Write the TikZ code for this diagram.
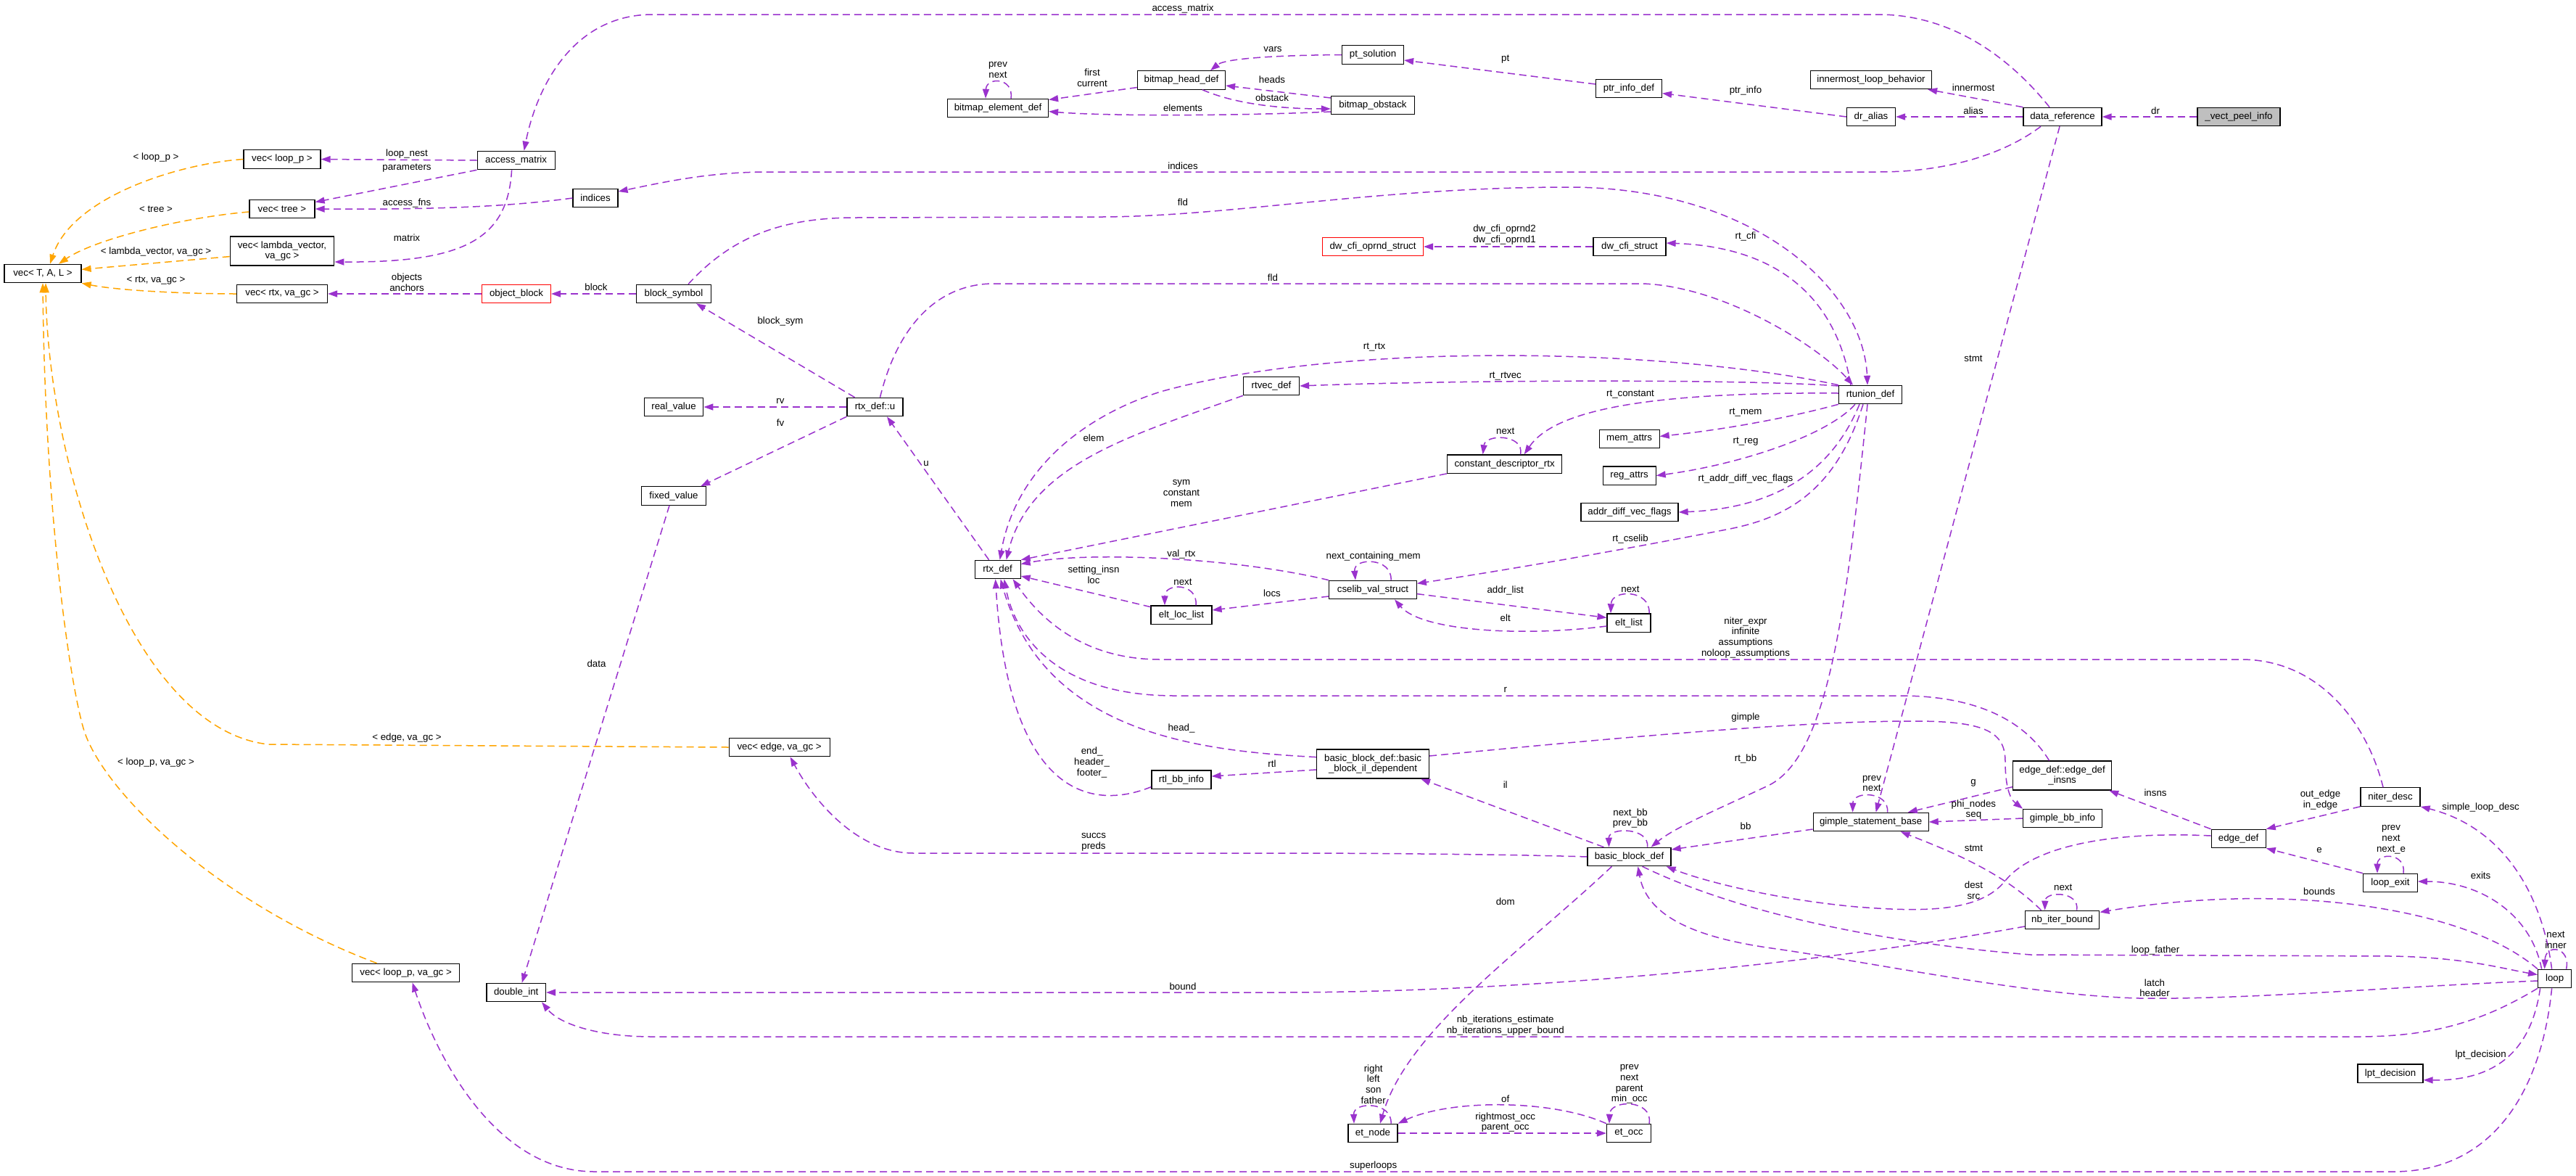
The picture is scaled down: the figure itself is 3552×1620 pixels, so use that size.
\documentclass[tikz,border=0pt]{standalone}
\usepackage{fontspec}
\newfontfamily\nf{Liberation Sans}
\usetikzlibrary{arrows.meta}
\definecolor{pcol}{HTML}{9A32CD}
\definecolor{ocol}{HTML}{FFA500}
\definecolor{gcol}{HTML}{BFBFBF}
\begin{document}
\begin{tikzpicture}[x=1pt,y=-1pt,
  box/.style={draw=black,line width=1.2pt,fill=white,minimum height=25.4pt,inner sep=0pt,align=center,font=\nf\fontsize{13.3}{14.7}\selectfont},
  rbox/.style={box,draw=red,line width=1pt},
  lbl/.style={inner sep=0pt,align=center,font=\nf\fontsize{13.3}{14.7}\selectfont},
  pe/.style={draw=pcol,line width=1.5pt,dash pattern=on 10pt off 6pt,-{Triangle[length=13pt,width=9pt]}},
  oe/.style={draw=ocol,line width=1.5pt,dash pattern=on 10pt off 6pt,-{Triangle[length=13pt,width=9pt]}}]
\fill[white] (0,0) rectangle (3552,1620);
\useasboundingbox (0,0) rectangle (3552,1620);
% nodes
\node[box,minimum width=106pt] (vtal) at (59,377) {vec< T, A, L >};
\node[box,minimum width=106pt] (vlp) at (389,219.5) {vec< loop\_p >};
\node[box,minimum width=107pt] (am) at (711.6,221) {access\_matrix};
\node[box,minimum width=90pt] (vtree) at (389,288) {vec< tree >};
\node[box,minimum width=62pt] (ind) at (821,273) {indices};
\node[box,minimum width=143.5pt,minimum height=40pt] (vlam) at (389,346) {vec< lambda\_vector,\\ va\_gc >};
\node[box,minimum width=125pt] (vrtx) at (389,405) {vec< rtx, va\_gc >};
\node[rbox,minimum width=95pt] (ob) at (712,405) {object\_block};
\node[box,minimum width=103pt] (bs) at (929,405) {block\_symbol};
\node[box,minimum width=139pt] (bed) at (1376,149) {bitmap\_element\_def};
\node[box,minimum width=121pt] (bhd) at (1629,110.5) {bitmap\_head\_def};
\node[box,minimum width=85pt] (pts) at (1893,75.5) {pt\_solution};
\node[box,minimum width=115pt] (bob) at (1893,145) {bitmap\_obstack};
\node[box,minimum width=91pt] (pid) at (2246,122) {ptr\_info\_def};
\node[box,minimum width=167pt] (ilb) at (2580,110) {innermost\_loop\_behavior};
\node[box,minimum width=67pt] (dra) at (2580,161) {dr\_alias};
\node[box,minimum width=108pt] (dref) at (2844,161) {data\_reference};
\node[box,fill=gcol,minimum width=114pt] (vpi) at (3087,161) {\_vect\_peel\_info};
\node[rbox,minimum width=139pt] (cfo) at (1893,340) {dw\_cfi\_oprnd\_struct};
\node[box,minimum width=100pt] (cfs) at (2247,340) {dw\_cfi\_struct};
\node[box,minimum width=87pt] (rtu) at (2579,544) {rtunion\_def};
\node[box,minimum width=77pt] (rvec) at (1753,532) {rtvec\_def};
\node[box,minimum width=77pt] (rtxu) at (1206.5,561) {rtx\_def::u};
\node[box,minimum width=81.5pt] (rv) at (929,561) {real\_value};
\node[box,minimum width=89pt] (fv) at (929,683.5) {fixed\_value};
\node[box,minimum width=63pt] (rtx) at (1375.6,785) {rtx\_def};
\node[box,minimum width=158.5pt] (cdr) at (2074.6,639.6) {constant\_descriptor\_rtx};
\node[box,minimum width=83pt] (mem) at (2246.6,605) {mem\_attrs};
\node[box,minimum width=73pt] (reg) at (2246.6,655.6) {reg\_attrs};
\node[box,minimum width=134pt] (adv) at (2247,706) {addr\_diff\_vec\_flags};
\node[box,minimum width=120.5pt] (cvs) at (1893,813) {cselib\_val\_struct};
\node[box,minimum width=84pt] (ell) at (1629,847.6) {elt\_loc\_list};
\node[box,minimum width=60pt] (el) at (2246,858.6) {elt\_list};
\node[box,minimum width=155pt,minimum height=40pt] (bbil) at (1893,1053) {basic\_block\_def::basic\\\_block\_il\_dependent};
\node[box,minimum width=82pt] (rbb) at (1629,1074.6) {rtl\_bb\_info};
\node[box,minimum width=139pt] (vedge) at (1074.6,1030) {vec< edge, va\_gc >};
\node[box,minimum width=115pt] (bbd) at (2246.5,1181) {basic\_block\_def};
\node[box,minimum width=159pt] (gsb) at (2579.6,1133) {gimple\_statement\_base};
\node[box,minimum width=136pt,minimum height=40pt] (edi) at (2843.6,1069) {edge\_def::edge\_def\\\_insns};
\node[box,minimum width=108.6pt] (gbi) at (2844,1128) {gimple\_bb\_info};
\node[box,minimum width=82pt] (nd) at (3296,1098.5) {niter\_desc};
\node[box,minimum width=75pt] (ed) at (3086.6,1156) {edge\_def};
\node[box,minimum width=74.5pt] (lex) at (3296,1217) {loop\_exit};
\node[box,minimum width=102.4pt] (nib) at (2843.6,1268) {nb\_iter\_bound};
\node[box,minimum width=46pt] (loop) at (3522.6,1349) {loop};
\node[box,minimum width=90pt] (lpt) at (3296,1479.7) {lpt\_decision};
\node[box,minimum width=148pt] (vlpgc) at (559.6,1341) {vec< loop\_p, va\_gc >};
\node[box,minimum width=81.5pt] (di) at (711.7,1368) {double\_int};
\node[box,minimum width=68pt] (etn) at (1893,1562) {et\_node};
\node[box,minimum width=61pt] (eto) at (2246,1562) {et\_occ};
% purple edges
\draw[pe] (vpi.west) -- (dref.east);
\draw[pe] (dref.north west) -- ([xshift=-6pt]ilb.south east);
\draw[pe] (dref.west) -- (dra.east);
\draw[pe] (dra.west) -- ([yshift=-6.6pt]pid.east);
\draw[pe] ([yshift=6pt]pid.west) -- ([yshift=-7.5pt]pts.east);
\draw[pe] (pts.west) .. controls (1770,76) and (1690,80) .. ([xshift=40pt]bhd.north);
\draw[pe] ([yshift=10pt]bob.west) -- ([yshift=-7.5pt]bhd.east);
\draw[pe] ([xshift=29pt]bhd.south) .. controls (1700,142) and (1760,150) .. ([yshift=-5pt]bob.west);
\draw[pe] ([yshift=-9pt]bob.west) .. controls (1700,160) and (1520,160) .. ([yshift=-4.6pt]bed.east);
\draw[pe] ([yshift=-10pt]bhd.west) -- ([yshift=11.5pt]bed.east);
\draw[pe] ([xshift=18pt]bed.north) .. controls (1398,106) and (1360,106) .. ([xshift=-17pt]bed.north);
\draw[pe] ([xshift=-18pt]dref.north) .. controls (2780,90) and (2700,20) .. (2590,20) -- (900,20) .. controls (790,20) and (740,120) .. ([xshift=11pt]am.north);
\draw[pe] ([xshift=-30pt]dref.south) .. controls (2760,215) and (2680,237) .. (2590,237) -- (1060,237) .. controls (980,237) and (920,250) .. ([yshift=9pt]ind.east);
\draw[pe] ([xshift=-4pt]dref.south) -- ([xshift=7pt]gsb.north);
\draw[pe] (am.west) -- (vlp.east);
\draw[pe] (am.south west) -- ([yshift=9.4pt]vtree.east);
\draw[pe] (ind.west) .. controls (700,285) and (600,289) .. (vtree.east);
\draw[pe] ([xshift=-6pt]am.south) .. controls (700,330) and (640,362) .. ([yshift=-15pt]vlam.east);
\draw[pe] (ob.west) -- (vrtx.east);
\draw[pe] (bs.west) -- (ob.east);
\draw[pe] ([xshift=20pt]bs.north) .. controls (1010,325) and (1080,300) .. (1180,300) -- (1520,299) .. controls (1700,298) and (1900,258) .. (2162,258) .. controls (2420,258) and (2570,400) .. ([xshift=-4pt]rtu.north);
\draw[pe] ([xshift=7pt]rtxu.north) .. controls (1240,440) and (1300,391) .. (1370,391) -- (2265,391) .. controls (2380,395) and (2510,480) .. ([xshift=-24pt]rtu.north);
\draw[pe] (rtxu.west) -- (rv.east);
\draw[pe] (rtxu.south west) -- ([xshift=-8pt]fv.north east);
\draw[pe] ([xshift=-28pt]rtxu.north) -- ([xshift=31pt]bs.south);
\draw[pe] ([xshift=-12pt]rtx.north) -- ([xshift=16.5pt]rtxu.south);
\draw[pe] ([xshift=-6pt]fv.south) -- ([xshift=8pt]di.north);
\draw[pe] (rvec.south west) .. controls (1560,600) and (1420,640) .. ([xshift=12pt]rtx.north);
\draw[pe] (rtu.north west) .. controls (2300,480) and (1850,470) .. (1600,540) .. controls (1490,575) and (1400,650) .. ([xshift=3pt]rtx.north);
\draw[pe] ([yshift=12pt]rtu.west) .. controls (2400,522) and (2000,524) .. (rvec.east);
\draw[pe] ([yshift=2pt]rtu.west) .. controls (2250,540) and (2140,570) .. ([xshift=27pt]cdr.north);
\draw[pe] ([xshift=22pt]cdr.north) .. controls (2102,598) and (2048,598) .. ([xshift=-30pt]cdr.north);
\draw[pe] (rtu.south west) .. controls (2470,575) and (2380,592) .. ([yshift=3.6pt]mem.east);
\draw[pe] ([xshift=-21pt]rtu.south) .. controls (2520,600) and (2400,640) .. (reg.east);
\draw[pe] ([xshift=-15pt]rtu.south) .. controls (2530,640) and (2460,700) .. (adv.east);
\draw[pe] ([xshift=-10pt]rtu.south) .. controls (2530,680) and (2460,715) .. (2380,730) .. controls (2200,765) and (2050,790) .. ([yshift=8.7pt]cvs.east);
\draw[pe] ([xshift=-4pt]rtu.south) .. controls (2545,850) and (2520,1040) .. (2440,1082) .. controls (2370,1115) and (2310,1140) .. ([xshift=30pt]bbd.north);
\draw[pe] ([xshift=-27pt]rtu.north) .. controls (2530,400) and (2440,340) .. ([yshift=5pt]cfs.east);
\draw[pe] (cfs.west) -- (cfo.east);
\draw[pe] (cdr.south west) -- (rtx.north east);
\draw[pe] (cvs.north west) .. controls (1700,768) and (1500,760) .. ([yshift=7.5pt]rtx.east);
\draw[pe] ([yshift=-9pt]cvs.west) -- ([yshift=6.6pt]ell.east);
\draw[pe] ([yshift=11pt]ell.west) -- ([yshift=-9pt]rtx.east);
\draw[pe] ([xshift=20pt]ell.north) .. controls (1652,803) and (1606,803) .. ([xshift=-23pt]ell.north);
\draw[pe] ([yshift=-5.6pt]cvs.east) -- ([yshift=7.2pt]el.west);
\draw[pe] ([yshift=-4.4pt]el.west) .. controls (2100,878) and (1960,870) .. ([xshift=30pt]cvs.south);
\draw[pe] ([xshift=28pt]el.north) .. controls (2276,812) and (2222,812) .. ([xshift=-25pt]el.north);
\draw[pe] ([xshift=25pt]cvs.north) .. controls (1920,768) and (1866,768) .. ([xshift=-24pt]cvs.north);
\draw[pe] ([xshift=-10pt]nd.north) .. controls (3265,1000) and (3200,909) .. (3090,909) -- (1600,909) .. controls (1500,909) and (1440,860) .. ([xshift=21pt]rtx.south);
\draw[pe] ([xshift=-18pt]edi.north) .. controls (2790,990) and (2720,959) .. (2620,959) -- (1620,959) .. controls (1460,959) and (1400,880) .. ([xshift=9pt]rtx.south);
\draw[pe] ([yshift=9.4pt]bbil.west) .. controls (1650,1035) and (1440,1010) .. ([xshift=4pt]rtx.south);
\draw[pe] ([yshift=-10pt]rbb.west) .. controls (1500,1120) and (1390,1090) .. ([xshift=-3pt]rtx.south);
\draw[pe] ([yshift=-8pt]bbil.west) -- ([yshift=4.6pt]rbb.east);
\draw[pe] ([xshift=-35pt]bbd.north) -- ([xshift=-12pt]bbil.south east);
\draw[pe] (bbd.west) .. controls (2100,1178) and (1900,1176) .. (1780,1176) -- (1260,1176) .. controls (1180,1176) and (1120,1100) .. ([xshift=15pt]vedge.south);
\draw[pe] ([xshift=-24pt]bbd.south) .. controls (2100,1310) and (1940,1420) .. ([xshift=10pt]etn.north);
\draw[pe] ([xshift=25pt]bbd.north) .. controls (2275,1140) and (2218,1140) .. ([xshift=-28pt]bbd.north);
\draw[pe] ([yshift=-10pt]gsb.west) -- ([yshift=10pt]bbd.east);
\draw[pe] ([xshift=23pt]gsb.north) .. controls (2605,1090) and (2555,1090) .. ([xshift=-25pt]gsb.north);
\draw[pe] (gbi.west) -- (gsb.east);
\draw[pe] ([yshift=11pt]bbil.east) .. controls (2300,1010) and (2500,994) .. (2640,994) .. controls (2740,994) and (2765,1010) .. (2765,1050) .. controls (2765,1080) and (2770,1100) .. (gbi.north west);
\draw[pe] ([yshift=5pt]edi.south west) -- ([xshift=-29pt]gsb.north east);
\draw[pe] (ed.north west) -- ([xshift=-4pt]edi.south east);
\draw[pe] (nd.south west) -- (ed.north east);
\draw[pe] (lex.north west) -- (ed.south east);
\draw[pe] ([xshift=18pt]lex.north) .. controls (3318,1175) and (3278,1175) .. ([xshift=-18pt]lex.north);
\draw[pe] ([xshift=-18pt]loop.north) .. controls (3490,1260) and (3420,1215) .. ([yshift=2pt]lex.east);
\draw[pe] ([xshift=-4pt]loop.north) .. controls (3505,1230) and (3450,1140) .. (nd.south east);
\draw[pe] ([xshift=16pt]loop.north) .. controls (3545,1305) and (3510,1300) .. ([xshift=-14pt]loop.north);
\draw[pe] (loop.north west) .. controls (3400,1250) and (3150,1215) .. ([yshift=10.6pt]nib.east);
\draw[pe] ([xshift=20pt]nib.north) .. controls (2868,1228) and (2820,1228) .. ([xshift=-24pt]nib.north);
\draw[pe] ([xshift=-29pt]nib.north) .. controls (2760,1200) and (2680,1170) .. ([xshift=41pt]gsb.south);
\draw[pe] ([yshift=-9pt]nib.west) .. controls (2500,1330) and (2100,1368) .. (1760,1368) -- (di.east);
\draw[pe] ([yshift=4pt]ed.west) .. controls (2900,1145) and (2800,1170) .. (2765,1214) .. controls (2730,1258) and (2650,1257) .. (2560,1250) .. controls (2450,1240) and (2350,1215) .. ([xshift=-7pt]bbd.south east);
\draw[pe] ([xshift=18pt]bbd.south) .. controls (2400,1260) and (2600,1300) .. (2800,1316) -- (3300,1318) .. controls (3400,1320) and (3450,1335) .. ([yshift=5.5pt]loop.west);
\draw[pe] ([yshift=-3pt]loop.west) .. controls (3300,1360) and (3100,1378) .. (2950,1376) .. controls (2800,1372) and (2600,1330) .. (2450,1308) .. controls (2330,1292) and (2270,1260) .. ([xshift=12pt]bbd.south);
\draw[pe] ([xshift=-20pt]loop.south) .. controls (3490,1450) and (3440,1490) .. ([yshift=-9pt]lpt.east);
\draw[pe] (loop.south west) .. controls (3420,1410) and (3350,1429) .. (3250,1429) -- (900,1429) .. controls (820,1429) and (770,1410) .. ([xshift=-6pt]di.south east);
\draw[pe] ([xshift=-4pt]loop.south) .. controls (3505,1500) and (3440,1615) .. (3300,1615) -- (820,1615) .. controls (680,1615) and (600,1450) .. ([xshift=9pt]vlpgc.south);
\draw[pe] ([xshift=25pt]etn.north) .. controls (1920,1518) and (1866,1518) .. ([xshift=-26pt]etn.north);
\draw[pe] ([xshift=28pt]eto.north) .. controls (2280,1515) and (2220,1515) .. ([xshift=-27pt]eto.north);
\draw[pe] (eto.north west) .. controls (2140,1515) and (2000,1515) .. (etn.north east);
\draw[pe] (etn.east) -- (eto.west);
% orange edges
\draw[oe] (vlp.west) .. controls (250,225) and (100,270) .. ([xshift=10pt]vtal.north);
\draw[oe] ([yshift=-4pt]vtree.west) .. controls (250,300) and (130,330) .. ([xshift=22pt]vtal.north);
\draw[oe] ([yshift=-7.6pt]vlam.west) -- ([yshift=5.6pt]vtal.east);
\draw[oe] (vrtx.west) .. controls (250,405) and (160,400) .. (vtal.south east);
\draw[oe] (vedge.west) -- (370,1026) .. controls (180,1005) and (66,640) .. ([xshift=4pt]vtal.south);
\draw[oe] ([xshift=-40pt]vlpgc.north) .. controls (300,1245) and (140,1090) .. (115,1004) .. controls (95,935) and (62,700) .. (vtal.south);
% labels
\node[lbl] (l1) at (215,217) {< loop\_p >};
\node[lbl] (l2) at (561,212) {loop\_nest};
\node[lbl] (l3) at (561,232) {parameters};
\node[lbl] (l4) at (215,288.6) {< tree >};
\node[lbl] (l5) at (561,280) {access\_fns};
\node[lbl] (l6) at (561,327.5) {matrix};
\node[lbl] (l7) at (215,347) {< lambda\_vector, va\_gc >};
\node[lbl] (l8) at (215,387) {< rtx, va\_gc >};
\node[lbl] (l9) at (561,389.5) {objects\\anchors};
\node[lbl] (l10) at (822,396) {block};
\node[lbl] (l11) at (1631,12) {access\_matrix};
\node[lbl] (l12) at (1376,96.3) {prev\\next};
\node[lbl] (l13) at (1506,107.5) {first\\current};
\node[lbl] (l14) at (1755,68) {vars};
\node[lbl] (l15) at (1754,110) {heads};
\node[lbl] (l16) at (1754,135) {obstack};
\node[lbl] (l17) at (1631,148.6) {elements};
\node[lbl] (l18) at (1631,228.6) {indices};
\node[lbl] (l19) at (1631,279) {fld};
\node[lbl] (l20) at (1755,383) {fld};
\node[lbl] (l21) at (1076,443) {block\_sym};
\node[lbl] (l22) at (2075.7,81.4) {pt};
\node[lbl] (l23) at (2407,124.6) {ptr\_info};
\node[lbl] (l24) at (2721,120.7) {innermost};
\node[lbl] (l25) at (2721,153) {alias};
\node[lbl] (l26) at (2972,153) {dr};
\node[lbl] (l27) at (2721,494.6) {stmt};
\node[lbl] (l28) at (2074.5,323.9) {dw\_cfi\_oprnd2\\dw\_cfi\_oprnd1};
\node[lbl] (l29) at (2407,326.4) {rt\_cfi};
\node[lbl] (l30) at (1895,478.6) {rt\_rtx};
\node[lbl] (l31) at (2075.7,518.6) {rt\_rtvec};
\node[lbl] (l32) at (2248,543.3) {rt\_constant};
\node[lbl] (l33) at (1076,553) {rv};
\node[lbl] (l34) at (1076,583) {fv};
\node[lbl] (l35) at (1277,639) {u};
\node[lbl] (l36) at (1508,603.6) {elem};
\node[lbl] (l37) at (1629,680) {sym\\constant\\mem};
\node[lbl] (l38) at (1629,764) {val\_rtx};
\node[lbl] (l39) at (1508,792) {setting\_insn\\loc};
\node[lbl] (l40) at (1631,802.5) {next};
\node[lbl] (l41) at (1754,818) {locs};
\node[lbl] (l42) at (1629,1004) {head\_};
\node[lbl] (l43) at (1505.6,1051) {end\_\\header\_\\footer\_};
\node[lbl] (l44) at (1754,1053) {rtl};
\node[lbl] (l45) at (2075.7,594.6) {next};
\node[lbl] (l46) at (2407,568.6) {rt\_mem};
\node[lbl] (l47) at (2407,609) {rt\_reg};
\node[lbl] (l48) at (2407,659.6) {rt\_addr\_diff\_vec\_flags};
\node[lbl] (l49) at (2248,742.5) {rt\_cselib};
\node[lbl] (l50) at (1893.7,767.5) {next\_containing\_mem};
\node[lbl] (l51) at (2248,812.5) {next};
\node[lbl] (l52) at (2075.7,814.3) {addr\_list};
\node[lbl] (l53) at (2075.7,851.4) {elt};
\node[lbl] (l54) at (2407,878.6) {niter\_expr\\infinite\\assumptions\\noloop\_assumptions};
\node[lbl] (l55) at (2075.7,951.4) {r};
\node[lbl] (l56) at (2407,988.6) {gimple};
\node[lbl] (l57) at (2407,1046) {rt\_bb};
\node[lbl] (l58) at (2075.7,1082) {il};
\node[lbl] (l59) at (2581,1080) {prev\\next};
\node[lbl] (l60) at (2721,1079) {g};
\node[lbl] (l61) at (2972,1092.7) {insns};
\node[lbl] (l62) at (3199.5,1102.7) {out\_edge\\in\_edge};
\node[lbl] (l63) at (3420.6,1112.7) {simple\_loop\_desc};
\node[lbl] (l64) at (2721.4,1116) {phi\_nodes\\seq};
\node[lbl] (l65) at (2248,1128) {next\_bb\\prev\_bb};
\node[lbl] (l66) at (2407,1139) {bb};
\node[lbl] (l67) at (1508,1160.5) {succs\\preds};
\node[lbl] (l68) at (3297,1157.3) {prev\\next\\next\_e};
\node[lbl] (l69) at (2721.4,1169) {stmt};
\node[lbl] (l70) at (3198,1172) {e};
\node[lbl] (l71) at (3420.6,1206.7) {exits};
\node[lbl] (l72) at (2721.4,1227.5) {dest\\src};
\node[lbl] (l73) at (2844.7,1223) {next};
\node[lbl] (l74) at (3198,1228.8) {bounds};
\node[lbl] (l75) at (2075.7,1242.5) {dom};
\node[lbl] (l76) at (3524,1296) {next\\inner};
\node[lbl] (l77) at (2972,1310) {loop\_father};
\node[lbl] (l78) at (2971,1361.7) {latch\\header};
\node[lbl] (l79) at (1631,1359.6) {bound};
\node[lbl] (l80) at (2075.7,1413.8) {nb\_iterations\_estimate\\nb\_iterations\_upper\_bound};
\node[lbl] (l81) at (3420.6,1454.4) {lpt\_decision};
\node[lbl] (l82) at (1893.7,1494.5) {right\\left\\son\\father};
\node[lbl] (l83) at (2246.7,1494.5) {prev\\next\\parent\\min\_occ};
\node[lbl] (l84) at (2075.7,1514.6) {of};
\node[lbl] (l85) at (2075.7,1547) {rightmost\_occ\\parent\_occ};
\node[lbl] (l86) at (1893.7,1607) {superloops};
\node[lbl] (l87) at (822.5,915) {data};
\node[lbl] (l88) at (561,1017) {< edge, va\_gc >};
\node[lbl] (l89) at (215,1050.7) {< loop\_p, va\_gc >};
\end{tikzpicture}
\end{document}
